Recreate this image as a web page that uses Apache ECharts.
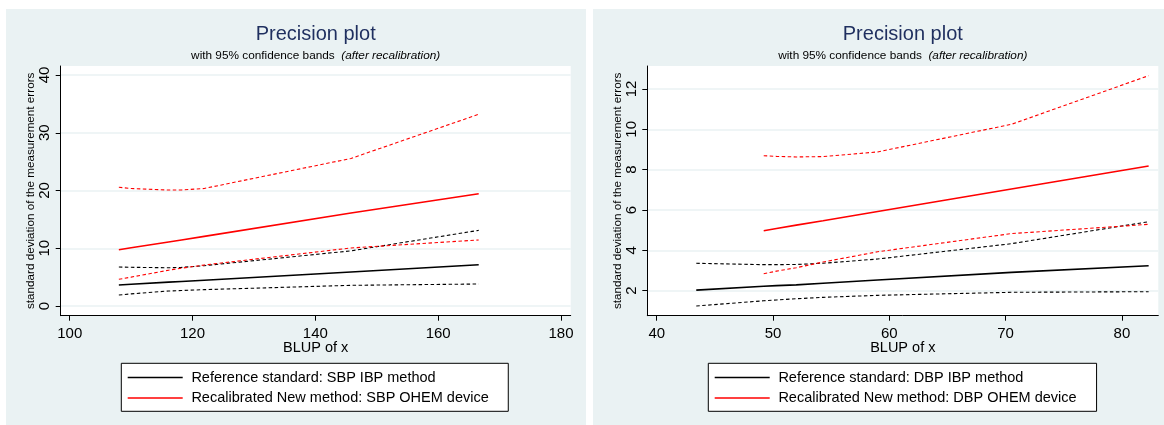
<!DOCTYPE html>
<html>
<head>
<meta charset="utf-8">
<script src="https://cdn.jsdelivr.net/npm/echarts@6/dist/echarts.min.js"></script>
<style>
  html, body { margin: 0; padding: 0; background: #ffffff; }
  #wrap { position: relative; width: 1164px; height: 425px; overflow: hidden; }
  .panel { position: absolute; background: #EAF2F3; }
</style>
</head>
<body>
<div id="wrap">
  <div id="p1" class="panel" style="left:6px;top:9px;width:580px;height:416px;"></div>
  <div id="p2" class="panel" style="left:593px;top:9px;width:571px;height:416px;"></div>
</div>
<script>
// ---------- Left panel (SBP) ----------
const sbpX = [108.0, 110.0, 116.1, 118.2, 121.9, 145.8, 166.6];
const sbpRefSD    = [3.64, 3.76, 4.13, 4.25, 4.47, 5.90, 7.15];
const sbpRefLower = [1.90, 2.10, 2.60, 2.68, 2.83, 3.58, 3.81];
const sbpRefUpper = [6.75, 6.70, 6.62, 6.68, 6.98, 9.55, 13.10];
const sbpNewSD    = [9.75, 10.08, 11.09, 11.44, 12.05, 16.10, 19.45];
const sbpNewLower = [4.62, 5.00, 6.20, 6.55, 7.10, 10.05, 11.43];
const sbpNewUpper = [20.55, 20.35, 20.08, 20.10, 20.35, 25.55, 33.20];
const sbpXTicks = [100, 120, 140, 160, 180];
const sbpYTicks = [0, 10, 20, 30, 40];

// ---------- Right panel (DBP) ----------
const dbpX = [43.4, 49.2, 50.3, 52.0, 54.3, 59.0, 70.5, 82.3];
const dbpRefSD    = [2.03, 2.22, 2.25, 2.29, 2.37, 2.53, 2.91, 3.24];
const dbpRefLower = [1.24, 1.50, 1.54, 1.60, 1.67, 1.77, 1.92, 1.95];
const dbpRefUpper = [3.36, 3.29, 3.29, 3.30, 3.36, 3.57, 4.33, 5.42];
const dbpNewSD    = [null, 4.97, 5.08, 5.25, 5.47, 5.93, 7.04, 8.18];
const dbpNewLower = [null, 2.84, 2.97, 3.14, 3.42, 3.93, 4.83, 5.29];
const dbpNewUpper = [null, 8.69, 8.66, 8.63, 8.65, 8.88, 10.25, 12.66];
const dbpXTicks = [40, 50, 60, 70, 80];
const dbpYTicks = [2, 4, 6, 8, 10, 12];

const FONT = '"Liberation Sans", Arial, sans-serif';

function pairs(xs, ys) {
  const out = [];
  for (let i = 0; i < xs.length; i++) {
    if (ys[i] != null) out.push([xs[i], ys[i]]);
  }
  return out;
}

function lineSeries(name, xs, ys, color, dashed) {
  return {
    name: name,
    type: 'line',
    data: pairs(xs, ys),
    symbol: 'none',
    silent: true,
    animation: false,
    lineStyle: dashed
      ? { color: color, width: 1.1, type: [3.5, 2.5] }
      : { color: color, width: 1.6 },
    itemStyle: { color: color },
    z: dashed ? 2 : 3
  };
}

function buildOption(cfg) {
  return {
    animation: false,
    textStyle: { fontFamily: FONT },
    title: [
      {
        text: 'Precision plot',
        left: cfg.center, top: 15, textAlign: 'center', padding: 0,
        textStyle: { fontFamily: FONT, fontSize: 20, fontWeight: 'normal', color: '#1f2f5f' }
      },
      {
        text: '{n|with 95% confidence bands  }{i|(after recalibration)}',
        left: cfg.center, top: 41, textAlign: 'center', padding: 0,
        textStyle: {
          fontFamily: FONT, fontSize: 11.8, fontWeight: 'normal', color: '#000',
          rich: {
            n: { fontFamily: FONT, fontSize: 11.8, color: '#000' },
            i: { fontFamily: FONT, fontSize: 11.8, color: '#000', fontStyle: 'italic' }
          }
        }
      }
    ],
    grid: {
      left: cfg.gridLeft, top: 57, width: cfg.gridWidth, height: 249.7,
      show: true, backgroundColor: '#ffffff', borderWidth: 0, containLabel: false
    },
    xAxis: {
      type: 'value',
      min: cfg.xMin, max: cfg.xMax,
      name: 'BLUP of x', nameLocation: 'middle', nameGap: 25, nameMoveOverlap: false,
      nameTextStyle: { fontFamily: FONT, fontSize: 14.5, color: '#000' },
      axisLine: { show: true, onZero: false, lineStyle: { color: '#000', width: 1 } },
      axisTick: { show: true, length: 5, customValues: cfg.xTicks, lineStyle: { color: '#000', width: 1 } },
      axisLabel: { customValues: cfg.xTicks, margin: 11, fontFamily: FONT, fontSize: 15, color: '#000' },
      splitLine: { show: false }
    },
    yAxis: {
      type: 'value',
      min: cfg.yMin, max: cfg.yMax,
      name: 'standard deviation of the measurement errors',
      nameLocation: 'middle', nameGap: 24, nameMoveOverlap: false,
      nameTextStyle: { fontFamily: FONT, fontSize: 11.7, color: '#000' },
      axisLine: { show: true, onZero: false, lineStyle: { color: '#000', width: 1 } },
      axisTick: { show: true, length: 5, customValues: cfg.yTicks, lineStyle: { color: '#000', width: 1 } },
      axisLabel: { customValues: cfg.yTicks, rotate: 90, margin: 8, fontFamily: FONT, fontSize: 15, color: '#000' },
      splitLine: { show: true, lineStyle: { color: '#EAF2F3', width: 1.5 } }
    },
    legend: {
      show: true,
      orient: 'vertical',
      left: cfg.legendLeft, top: 354.3,
      padding: [6.75, cfg.legendPadRight, 5.75, 6.4],
      itemGap: 5.5,
      icon: 'rect',
      itemWidth: 55, itemHeight: 1.6,
      backgroundColor: '#ffffff',
      borderColor: '#000', borderWidth: 1, borderRadius: 0,
      selectedMode: false,
      data: [cfg.refName, cfg.newName],
      textStyle: { fontFamily: FONT, fontSize: 14.5, color: '#000', padding: [0, 0, 0, 3.7] }
    },
    series: [
      lineSeries(cfg.refName + ' lower', cfg.x, cfg.refLower, '#000000', true),
      lineSeries(cfg.refName + ' upper', cfg.x, cfg.refUpper, '#000000', true),
      lineSeries(cfg.newName + ' lower', cfg.x, cfg.newLower, '#ff0000', true),
      lineSeries(cfg.newName + ' upper', cfg.x, cfg.newUpper, '#ff0000', true),
      lineSeries(cfg.refName, cfg.x, cfg.refSD, '#000000', false),
      lineSeries(cfg.newName, cfg.x, cfg.newSD, '#ff0000', false)
    ]
  };
}

const c1 = echarts.init(document.getElementById('p1'), null, { renderer: 'canvas' });
c1.setOption(buildOption({
  center: 309.7, gridLeft: 54.7, gridWidth: 510,
  xMin: 98.53, xMax: 181.58, yMin: -1.68, yMax: 41.56,
  xTicks: sbpXTicks, yTicks: sbpYTicks,
  legendLeft: 115.3, legendPadRight: 19.5,
  refName: 'Reference standard: SBP IBP method',
  newName: 'Recalibrated New method: SBP OHEM device',
  x: sbpX,
  refSD: sbpRefSD, refLower: sbpRefLower, refUpper: sbpRefUpper,
  newSD: sbpNewSD, newLower: sbpNewLower, newUpper: sbpNewUpper
}));

const c2 = echarts.init(document.getElementById('p2'), null, { renderer: 'canvas' });
c2.setOption(buildOption({
  center: 309.8, gridLeft: 54.3, gridWidth: 511,
  xMin: 39.19, xMax: 83.13, yMin: 0.76, yMax: 13.14,
  xTicks: dbpXTicks, yTicks: dbpYTicks,
  legendLeft: 115.3, legendPadRight: 20,
  refName: 'Reference standard: DBP IBP method',
  newName: 'Recalibrated New method: DBP OHEM device',
  x: dbpX,
  refSD: dbpRefSD, refLower: dbpRefLower, refUpper: dbpRefUpper,
  newSD: dbpNewSD, newLower: dbpNewLower, newUpper: dbpNewUpper
}));
</script>
</body>
</html>
